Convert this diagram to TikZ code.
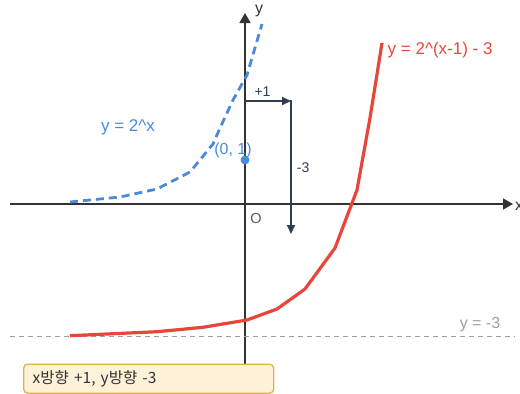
\documentclass[tikz,border=0pt]{standalone}
\usepackage{fontspec}
\setmainfont{Liberation Sans}
\newfontfamily\kofont{Noto Sans CJK KR}
\usepackage{tikz}
\usetikzlibrary{arrows.meta,positioning,calc}

\definecolor{axisgray}{HTML}{333333}
\definecolor{shiftdark}{HTML}{2C3E50}
\definecolor{curveblue}{HTML}{4A8ADB}
\definecolor{curvered}{HTML}{E8463A}
\definecolor{asymgray}{HTML}{9E9E9E}
\definecolor{notefill}{HTML}{FFF2D9}
\definecolor{notedraw}{HTML}{D9B548}

\begin{document}
\begin{tikzpicture}[x=1pt, y=-1pt, thick,
    axis/.style={draw=axisgray, line width=1.4pt, -{Triangle[length=10pt,width=11pt]}},
    shiftarrow/.style={draw=shiftdark, line width=1.9pt, -{Triangle[length=9pt,width=8pt]}},
    lbl/.style={font=\fontsize{14}{16}\selectfont, text=shiftdark, inner sep=1pt}]
    \useasboundingbox (0,0) rectangle (520,394);
    % axes
    \coordinate (XL) at (10,204);
    \coordinate (XR) at (513,204);
    \coordinate (YB) at (245,394);
    \coordinate (YT) at (245,13);
    \draw[axis] (XL) -- (XR);
    \draw[axis] (YB) -- (YT);
    \node[font=\fontsize{16}{18}\selectfont, text=axisgray] (XLab) at (519,206) {x};
    \node[font=\fontsize{16}{18}\selectfont, text=axisgray] (YLab) at (259,11) {y};
    \node[font=\fontsize{14.5}{16}\selectfont, text=axisgray!80] (O) at (256,219) {O};
    % asymptote
    \coordinate (AL) at (10,336.5);
    \coordinate (AR) at (515,336.5);
    \draw[asymgray, line width=1.3pt, dash pattern=on 5pt off 4pt] (AL) -- (AR);
    \node[font=\fontsize{16}{18}\selectfont, text=asymgray] (Asym) at (480,325) {y = -3};
    % y = 2^x
    \draw[curveblue, line width=2.8pt, dash pattern=on 8pt off 5pt, line join=round]
        plot coordinates {(70,202) (120,197) (157,189) (190,172) (213,144) (220,128) (233,100) (247,75) (262,24)};
    \node[font=\fontsize{17}{19}\selectfont, text=curveblue] (BlueLab) at (128,127) {y = 2\^{}x};
    \fill[curveblue] (245,160) circle (4.5pt);
    \node[font=\fontsize{16}{18}\selectfont, text=curveblue] (Pt) at (233,150) {(0, 1)};
    % y = 2^(x-1) - 3
    \draw[curvered, line width=3.2pt, line join=round]
        plot coordinates {(70,335.7) (157,331.7) (203,327.3) (247,320) (277,309) (305,289) (335,248) (357,190) (370,118) (382,43)};
    \node[font=\fontsize{17}{19}\selectfont, text=curvered, anchor=west] (RedLab) at (384,50) {y = 2\^{}(x-1) - 3};
    % shift arrows
    \coordinate (S0) at (245,101);
    \coordinate (S1) at (291,101);
    \coordinate (S2) at (291,234);
    \draw[shiftarrow] (S0) -- node[lbl, above=3pt, pos=0.38] {+1} (S1);
    \draw[shiftarrow, shorten <=-0.95pt] (S1) -- node[lbl, right=4pt, pos=0.5] {-3} (S2);
    % note
    \node[draw=notedraw, fill=notefill, line width=1.3pt, rounded corners=4pt, anchor=north west,
          minimum width=250pt, minimum height=29pt, text width=232pt, align=left,
          font=\kofont\fontsize{15.5}{18}\selectfont, text=axisgray] (Note) at (23,363.5) {x방향 +1, y방향 -3};
\end{tikzpicture}
\end{document}
